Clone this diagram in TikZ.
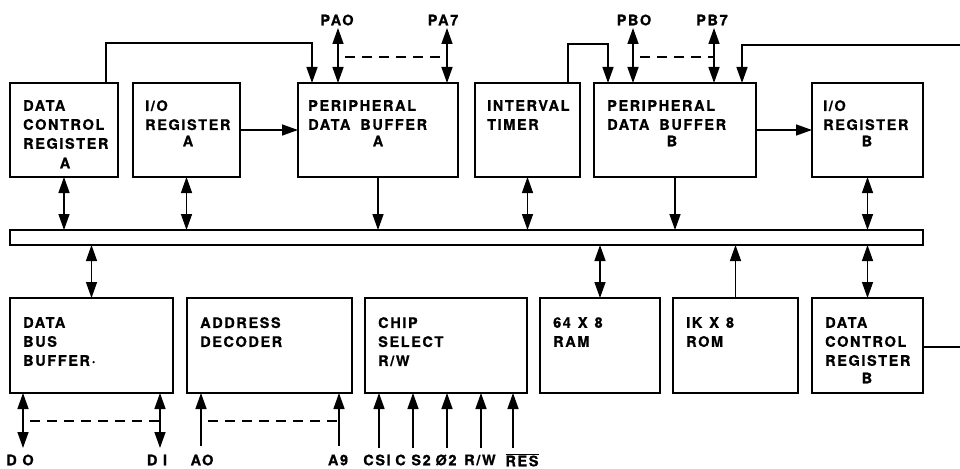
\documentclass[tikz,border=0pt]{standalone}
\usepackage{fontspec}
\setmainfont{TeX Gyre Heros}[LetterSpace=11, BoldFeatures={FakeBold=0.8}]
\usetikzlibrary{arrows.meta}
\newcommand\blkbox[5]{\node[blk, minimum width={(#4-#2)*1pt}, minimum height={(#5-#3)*1pt}] (#1) at ({(#2+#4)/2},{(#3+#5)/2}) {};}
\begin{document}
\begin{tikzpicture}[x=1pt,y=-1pt,
  blk/.style={draw, line width=2.6pt, inner sep=0pt, outer sep=0pt},
  busbox/.style={draw, line width=1.8pt, inner sep=0pt, outer sep=0pt},
  txt/.style={font=\bfseries\fontsize{14.5}{19}\selectfont, inner sep=0pt, align=left},
  conn/.style={line width=1.4pt, >={Triangle[length=16pt,width=11pt]}},
  dsh/.style={line width=1.4pt, dash pattern=on 10pt off 7pt}]
\useasboundingbox (0,0) rectangle (960,468);
% boxes
\blkbox{dcra}{10}{83}{118}{177}
\blkbox{ioa}{133}{83}{240}{177}
\blkbox{pdba}{298}{83}{458}{177}
\blkbox{timer}{475}{83}{580}{177}
\blkbox{pdbb}{594}{83}{756}{177}
\blkbox{iob}{812}{83}{923}{177}
\node[busbox, minimum width=913pt, minimum height=15pt] (bus) at (466.5,237.5) {};
\blkbox{dbb}{10}{298}{173}{393}
\blkbox{addr}{187}{298}{352}{393}
\blkbox{cs}{365}{298}{527}{393}
\blkbox{ram}{540}{298}{660}{393}
\blkbox{rom}{673}{298}{798}{393}
\blkbox{dcrb}{812}{298}{923}{393}
% texts top row
\node[txt, anchor=north west] (dcra-t) at (23,100) {DATA\\CONTROL\\REGISTER};
\node[txt] (dcra-l) at (65,163) {A};
\node[txt, anchor=north west] (ioa-t) at (145,100) {I/O\\REGISTER};
\node[txt] (ioa-l) at (188,141) {A};
\node[txt, anchor=north west] (pdba-t) at (308,100) {PERIPHERAL\\DATA\hspace{10pt}BUFFER};
\node[txt] (pdba-l) at (378,141) {A};
\node[txt, anchor=north west] (timer-t) at (487,100) {INTERVAL\\TIMER};
\node[txt, anchor=north west] (pdbb-t) at (607,100) {PERIPHERAL\\DATA\hspace{10pt}BUFFER};
\node[txt] (pdbb-l) at (672,141) {B};
\node[txt, anchor=north west] (iob-t) at (823,100) {I/O\\REGISTER};
\node[txt] (iob-l) at (867,141) {B};
% texts bottom row
\node[txt, anchor=north west] (dbb-t) at (23,317) {DATA\\BUS\\BUFFER·};
\node[txt, anchor=north west] (addr-t) at (200,317) {ADDRESS\\DECODER};
\node[txt, anchor=north west] (cs-t) at (378,317) {CHIP\\SELECT\\R/W};
\node[txt, anchor=north west] (ram-t) at (553,317) {64\hspace{7pt}X\hspace{7pt}8\\RAM};
\node[txt, anchor=north west] (rom-t) at (686,317) {IK\hspace{7pt}X\hspace{7pt}8\\ROM};
\node[txt, anchor=north west] (dcrb-t) at (825,317) {DATA\\CONTROL\\REGISTER};
\node[txt] (dcrb-l) at (867,378) {B};
% bus connections
\draw[conn,<->] (dcra.south) -- (dcra.south |- bus.north);
\draw[conn,<->] (ioa.south) -- (ioa.south |- bus.north);
\draw[conn,->] (pdba.south) -- (pdba.south |- bus.north);
\draw[conn,<->] (timer.south) -- (timer.south |- bus.north);
\draw[conn,->] (pdbb.south) -- (pdbb.south |- bus.north);
\draw[conn,<->] (iob.south) -- (iob.south |- bus.north);
\draw[conn,<->] (dbb.north) -- (dbb.north |- bus.south);
\draw[conn,<->] (ram.north) -- (ram.north |- bus.south);
\draw[conn,->] (rom.north) -- (rom.north |- bus.south);
\draw[conn,<->] (dcrb.north) -- (dcrb.north |- bus.south);
% register to buffer
\draw[conn,->] (ioa) -- (pdba);
\draw[conn,->] (pdbb) -- (iob);
% top routing
\coordinate (dcraup) at (106,43);
\coordinate (pdbain) at (312,43);
\draw[conn,->] (dcra.north -| dcraup) -- (dcraup) -- (pdbain) -- (pdbain |- pdba.north);
\coordinate (timerup) at (568,44);
\coordinate (pdbbin) at (608,44);
\draw[conn,->] (timer.north -| timerup) -- (timerup) -- (pdbbin) -- (pdbbin |- pdbb.north);
\coordinate (rin) at (960,45);
\coordinate (pdbbin2) at (742,45);
\draw[conn,->] (rin) -- (pdbbin2) -- (pdbbin2 |- pdbb.north);
\coordinate (rout) at (960,347);
\draw[conn] (dcrb.east |- rout) -- (rout);
% port A / B
\coordinate (dy) at (0,57);
\coordinate (pa0) at (338,28);
\coordinate (pa7) at (447,28);
\coordinate (pb0) at (633,28);
\coordinate (pb7) at (714,28);
\draw[conn,<->] (pa0) -- (pa0 |- pdba.north);
\draw[conn,<->] (pa7) -- (pa7 |- pdba.north);
\draw[conn,<->] (pb0) -- (pb0 |- pdbb.north);
\draw[conn,<->] (pb7) -- (pb7 |- pdbb.north);
\draw[dsh, shorten <=7pt] (pa0 |- dy) -- (pa7 |- dy);
\draw[dsh, shorten <=7pt] (pb0 |- dy) -- (pb7 |- dy);
\node[txt] (pa0-l) at (337,20) {PAO};
\node[txt] (pa7-l) at (443,20) {PA7};
\node[txt] (pb0-l) at (634,20) {PBO};
\node[txt] (pb7-l) at (712,20) {PB7};
% bottom inputs
\coordinate (ly) at (0,421);
\coordinate (d0) at (23,448);
\coordinate (d1) at (160,448);
\coordinate (a0) at (201,446);
\coordinate (a9) at (339,446);
\coordinate (cs1) at (379,448);
\coordinate (cs2) at (413,448);
\coordinate (phi2) at (447,448);
\coordinate (rw) at (481,448);
\coordinate (res) at (513,448);
\draw[conn,<->] (d0) -- (d0 |- dbb.south);
\draw[conn,<->] (d1) -- (d1 |- dbb.south);
\draw[dsh, shorten <=7pt] (d0 |- ly) -- (d1 |- ly);
\draw[conn,->] (a0) -- (a0 |- addr.south);
\draw[conn,->] (a9) -- (a9 |- addr.south);
\draw[dsh, shorten <=7pt] (a0 |- ly) -- (a9 |- ly);
\draw[conn,->] (cs1) -- (cs1 |- cs.south);
\draw[conn,->] (cs2) -- (cs2 |- cs.south);
\draw[conn,->] (phi2) -- (phi2 |- cs.south);
\draw[conn,->] (rw) -- (rw |- cs.south);
\draw[conn,->] (res) -- (res |- cs.south);
\node[txt] (d0-l) at (20,460) {D O};
\node[txt] (d1-l) at (157,460) {D I};
\node[txt] (a0-l) at (202,460) {AO};
\node[txt] (a9-l) at (338,460) {A9};
\node[txt] (cs1-l) at (377,460) {CSI};
\node[txt] (cs2-l) at (413,460) {C S2};
\node[txt] (phi2-l) at (446,460) {Ø2};
\node[txt] (rw-l) at (480,460) {R/W};
\node[txt] (res-l) at (522,460) {$\overline{\hbox{RES}}$};
\end{tikzpicture}
\end{document}
